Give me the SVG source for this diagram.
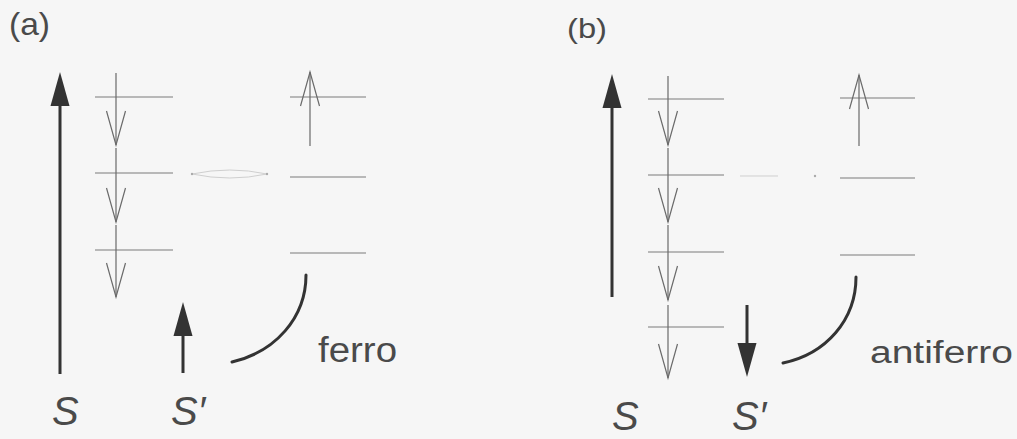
<svg xmlns="http://www.w3.org/2000/svg" width="1017" height="439" viewBox="0 0 1017 439">
<defs>
<style>
.lvl{stroke:#7a7a7a;stroke-width:1.2;fill:none}
.thin{stroke:#6a6a6a;stroke-width:1.2;fill:none}
.thick{stroke:#333;stroke-width:3;fill:none}
.arc{stroke:#333;stroke-width:3;fill:none;stroke-linecap:round}
.faint{stroke:#cfcfcf;stroke-width:1;fill:none}
.lbl{font-family:"Liberation Sans",Arial,sans-serif;fill:#4a4a4a}
.sym{font-family:"Liberation Sans",Arial,sans-serif;font-style:italic;fill:#4a4a4a;font-size:40px}
</style>
<marker id="fh" markerUnits="userSpaceOnUse" markerWidth="36" markerHeight="20" refX="0" refY="9.5" orient="auto" overflow="visible">
<path d="M0,0 L34,9.5 L0,19 z" fill="#333"/>
</marker>
<marker id="oh" markerUnits="userSpaceOnUse" markerWidth="36" markerHeight="22" refX="34" refY="10" orient="auto" overflow="visible">
<path d="M0,0.5 L34,10 L0,19.5" fill="none" stroke="#6a6a6a" stroke-width="1.2"/>
</marker>
</defs>
<rect width="1017" height="439" fill="#f6f6f6"/>

<g id="panel-a">
<text class="lbl" x="9" y="35" font-size="32" textLength="41" lengthAdjust="spacingAndGlyphs">(a)</text>
<g id="a-levels-left">
<line class="lvl" x1="95" y1="97" x2="173" y2="97"/>
<line class="lvl" x1="95" y1="173" x2="173" y2="173"/>
<line class="lvl" x1="95" y1="250" x2="173" y2="250"/>
</g>
<g id="a-levels-right">
<line class="lvl" x1="290" y1="97" x2="366" y2="97"/>
<line class="lvl" x1="290" y1="177" x2="366" y2="177"/>
<line class="lvl" x1="290" y1="253" x2="366" y2="253"/>
</g>
<g id="a-S">
<text class="sym" x="52" y="425">S</text>
</g>
<g id="a-Sp">
<text class="sym" x="171" y="425">S′</text>
</g>
<text class="lbl" x="318" y="362" font-size="35" textLength="79" lengthAdjust="spacingAndGlyphs">ferro</text>
</g>

<g id="panel-b">
<text class="lbl" x="567" y="38" font-size="28" textLength="40" lengthAdjust="spacingAndGlyphs">(b)</text>
<g id="b-levels-left">
<line class="lvl" x1="648" y1="99" x2="724" y2="99"/>
<line class="lvl" x1="648" y1="175" x2="724" y2="175"/>
<line class="lvl" x1="648" y1="252" x2="724" y2="252"/>
<line class="lvl" x1="648" y1="327" x2="724" y2="327"/>
</g>
<g id="b-levels-right">
<line class="lvl" x1="840" y1="98" x2="915" y2="98"/>
<line class="lvl" x1="840" y1="178" x2="915" y2="178"/>
<line class="lvl" x1="840" y1="255" x2="915" y2="255"/>
</g>
<g id="b-S">
<text class="sym" x="612" y="430">S</text>
</g>
<g id="b-Sp">
<text class="sym" x="732" y="430">S′</text>
</g>
<text class="lbl" x="870" y="363" font-size="31" textLength="143" lengthAdjust="spacingAndGlyphs">antiferro</text>
</g>

<g id="connectors">
<line class="thick" x1="60" y1="374" x2="60" y2="106" marker-end="url(#fh)"/>
<line class="thick" x1="183" y1="373" x2="183" y2="336" marker-end="url(#fh)"/>
<line class="thin" x1="116" y1="73" x2="116" y2="145" marker-end="url(#oh)"/>
<line class="thin" x1="116" y1="148" x2="116" y2="222" marker-end="url(#oh)"/>
<line class="thin" x1="116" y1="225" x2="116" y2="297" marker-end="url(#oh)"/>
<line class="thin" x1="310" y1="146" x2="310" y2="72" marker-end="url(#oh)"/>
<path class="faint" d="M192,174 Q230,166 267,174 Q230,182 192,174 Z"/>
<circle cx="192" cy="174" r="1.2" fill="#aaa"/>
<circle cx="267" cy="174" r="1.2" fill="#aaa"/>
<path class="arc" d="M306,275 C306,318 275,352 232,362"/>
<line class="thick" x1="612" y1="297" x2="612" y2="108" marker-end="url(#fh)"/>
<line class="thick" x1="747" y1="305" x2="747" y2="343" marker-end="url(#fh)"/>
<line class="thin" x1="668" y1="76" x2="668" y2="145" marker-end="url(#oh)"/>
<line class="thin" x1="668" y1="148" x2="668" y2="222" marker-end="url(#oh)"/>
<line class="thin" x1="668" y1="225" x2="668" y2="300" marker-end="url(#oh)"/>
<line class="thin" x1="668" y1="305" x2="668" y2="378" marker-end="url(#oh)"/>
<line class="thin" x1="859" y1="146" x2="859" y2="75" marker-end="url(#oh)"/>
<line class="faint" x1="740" y1="176" x2="778" y2="176"/>
<circle cx="815" cy="176" r="1.2" fill="#aaa"/>
<path class="arc" d="M856,277 C856,320 826,354 783,363"/>
</g>
</svg>
